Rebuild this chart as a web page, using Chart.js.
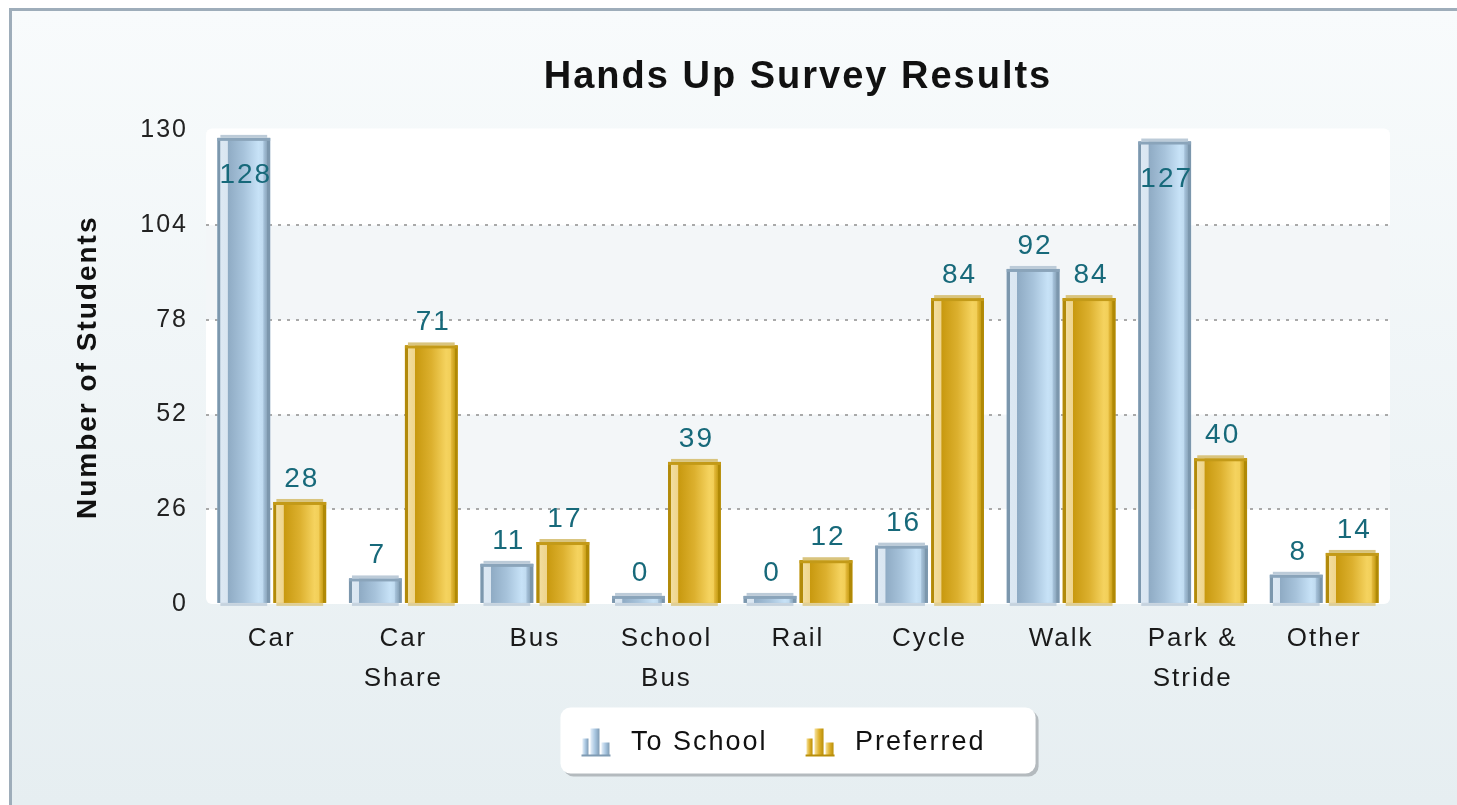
<!DOCTYPE html>
<html>
<head>
<meta charset="utf-8">
<title>Hands Up Survey Results</title>
<script src="https://cdn.jsdelivr.net/npm/chart.js@4"></script>
<style>
  html, body { margin: 0; padding: 0; background: #ffffff; overflow: hidden; }
  #wrap { width: 1457px; height: 805px; position: relative; }
</style>
</head>
<body>
<div id="wrap"><canvas id="surveyChart"></canvas></div>
<script>
// =========================
// chart data
// =========================
const categories = [
  ["Car"],
  ["Car", "Share"],
  ["Bus"],
  ["School", "Bus"],
  ["Rail"],
  ["Cycle"],
  ["Walk"],
  ["Park &", "Stride"],
  ["Other"],
];
const seriesNames = ["To School", "Preferred"];
const toSchool = [128, 7, 11, 0, 0, 16, 92, 127, 8];
const preferred = [28, 71, 17, 39, 12, 84, 84, 40, 14];
const yTicks = [0, 26, 52, 78, 104, 130];

const chartTitle = "Hands Up Survey Results";
const yTitle = "Number of Students";

// =========================
// bar looks (left -> right gradient)
// =========================
const blueStops = [
  [0, "#7c97ad"], [0.055, "#7c97ad"], [0.06, "#dce8f3"], [0.19, "#dae6f1"],
  [0.2, "#8fabc4"], [0.5, "#a7c3db"], [0.78, "#c7e2f7"], [0.86, "#c0dbf0"],
  [0.88, "#a5c1d9"], [0.94, "#8ca7bd"], [0.945, "#7c97ad"], [1, "#7c97ad"],
];
const goldStops = [
  [0, "#b28a0a"], [0.055, "#b28a0a"], [0.06, "#f2dd9e"], [0.19, "#efd58c"],
  [0.2, "#c8990f"], [0.5, "#dcb02e"], [0.78, "#f5d35f"], [0.86, "#f2cf58"],
  [0.88, "#e3b83a"], [0.94, "#c9a018"], [0.945, "#b08906"], [1, "#b08906"],
];
const barLooks = [
  { stops: blueStops, edge: "#8aa4ba", cap: "#bccbd8" },
  { stops: goldStops, edge: "#c39a18", cap: "#d9c47e" },
];

// =========================
// legend icons (small bar chart glyph)
// icon sits 22px into a 59px wide image so the
// legend gets the same gaps as the original
// =========================
const ICON_OFFSET = 22;

function makeLegendIcon(light, mid, dark) {
  const c = document.createElement("canvas");
  c.width = 59;
  c.height = 34;
  const g = c.getContext("2d");
  const bars = [
    [2, 13, 6],
    [10, 3, 9],
    [21, 17, 8],
  ];
  bars.forEach(([bx, by, bw]) => {
    const x0 = ICON_OFFSET + bx;
    const grad = g.createLinearGradient(x0, 0, x0 + bw, 0);
    grad.addColorStop(0, light);
    grad.addColorStop(0.5, mid);
    grad.addColorStop(1, dark);
    g.fillStyle = grad;
    g.fillRect(x0, by, bw, 30 - by);
  });
  g.fillStyle = dark;
  g.fillRect(ICON_OFFSET + 1, 29, 29, 2);
  return c;
}
const legendIcons = [
  makeLegendIcon("#e3eef8", "#a9c7e2", "#7f9bb3"),
  makeLegendIcon("#f6e3a0", "#e0b22c", "#b88e0a"),
];

// =========================
// plugins
// =========================
const spacingPlugin = {
  id: "spacing",
  beforeLayout(chart) {
    chart.ctx.letterSpacing = "2px";
  },
  afterLayout(chart) {
    // keep the visible legend centred like the original
    if (chart.legend) {
      chart.legend.left -= ICON_OFFSET + 4;
      chart.legend.right -= ICON_OFFSET + 4;
    }
  },
  beforeDraw(chart) {
    chart.ctx.letterSpacing = "2px";
  },
};

const backdropPlugin = {
  id: "backdrop",
  beforeDraw(chart) {
    const { ctx, width, height, chartArea, scales } = chart;
    ctx.save();

    // page background + frame
    const bg = ctx.createLinearGradient(0, 11, 0, height);
    bg.addColorStop(0, "#f8fbfc");
    bg.addColorStop(1, "#e6eef1");
    ctx.fillStyle = bg;
    ctx.fillRect(12, 11, width - 12, height - 11);
    ctx.fillStyle = "#9eadba";
    ctx.fillRect(9, 8, width - 9, 3);
    ctx.fillRect(9, 8, 3, height - 8);

    // plot area with alternating bands
    const { left, right, top, bottom } = chartArea;
    ctx.beginPath();
    ctx.roundRect(left, top - 2, right - left, bottom - top + 2, 6);
    ctx.fillStyle = "#ffffff";
    ctx.fill();
    const y = scales.y;
    for (let i = 0; i < yTicks.length - 1; i++) {
      if (i % 2 === 1) {
        const y1 = y.getPixelForValue(yTicks[i]);
        const y2 = y.getPixelForValue(yTicks[i + 1]);
        ctx.fillStyle = "#f3f6f8";
        ctx.fillRect(left, y2, right - left, y1 - y2);
      }
    }

    // legend box
    const boxes = chart.legend && chart.legend.legendHitBoxes;
    if (boxes && boxes.length) {
      const first = boxes[0];
      const last = boxes[boxes.length - 1];
      const cy = first.top + first.height / 2;
      const bx = first.left + ICON_OFFSET - 20;
      const bw = last.left + last.width + 50 - bx;
      const by = cy - 35;
      const bh = 66;
      ctx.beginPath();
      ctx.roundRect(bx + 3, by + 3, bw, bh, 10);
      ctx.fillStyle = "#b4babe";
      ctx.fill();
      ctx.beginPath();
      ctx.roundRect(bx, by, bw, bh, 10);
      ctx.fillStyle = "#ffffff";
      ctx.fill();
    }
    ctx.restore();
  },
};

const barPaintPlugin = {
  id: "barPaint",
  afterDatasetsDraw(chart) {
    const { ctx, chartArea } = chart;
    ctx.save();
    ctx.letterSpacing = "2px";

    chart.data.datasets.forEach((ds, di) => {
      const look = barLooks[di];
      chart.getDatasetMeta(di).data.forEach((el) => {
        const { x, y, base, width } = el.getProps(["x", "y", "base", "width"], true);
        const left = x - width / 2;
        const top = Math.min(y, base);
        const bottom = Math.max(y, base);

        const grad = ctx.createLinearGradient(left, 0, left + width, 0);
        look.stops.forEach(([p, c]) => grad.addColorStop(p, c));
        ctx.fillStyle = grad;
        ctx.fillRect(left, top, width, bottom - top);

        ctx.fillStyle = look.edge;
        ctx.fillRect(left, top, width, 3);
        ctx.fillStyle = look.cap;
        ctx.fillRect(left + 3, top - 3, width - 6, 3);
        ctx.globalAlpha = 0.8;
        ctx.fillRect(left + 3, bottom, width - 6, 3);
        ctx.globalAlpha = 1;
      });
    });

    // value labels
    ctx.font = "28px 'Liberation Sans', Arial, sans-serif";
    ctx.fillStyle = "#17697a";
    ctx.textAlign = "center";
    ctx.textBaseline = "alphabetic";
    chart.data.datasets.forEach((ds, di) => {
      chart.getDatasetMeta(di).data.forEach((el, i) => {
        const { x, y, base } = el.getProps(["x", "y", "base"], true);
        const top = Math.min(y, base);
        let ty = top - 15;
        if (ty - 21 < chartArea.top) {
          ty = top + 45;
        }
        ctx.fillText(String(ds.data[i]), x + 2, ty);
      });
    });
    ctx.restore();
  },
};

// =========================
// chart
// =========================
Chart.defaults.font.family = "'Liberation Sans', Arial, sans-serif";

const canvas = document.querySelector("#surveyChart");

new Chart(canvas.getContext("2d"), {
  type: "bar",
  data: {
    labels: categories,
    datasets: [
      {
        label: seriesNames[0],
        data: toSchool,
        backgroundColor: "#a7c3db",
        pointStyle: legendIcons[0],
        borderWidth: 0,
        minBarLength: 8,
        clip: false,
      },
      {
        label: seriesNames[1],
        data: preferred,
        backgroundColor: "#dcb02e",
        pointStyle: legendIcons[1],
        borderWidth: 0,
        minBarLength: 8,
        clip: false,
      },
    ],
  },
  options: {
    responsive: true,
    maintainAspectRatio: false,
    animation: false,
    categoryPercentage: 0.851,
    barPercentage: 0.943,
    layout: {
      padding: { top: 0, left: 12, right: 67, bottom: 39 },
    },
    plugins: {
      title: {
        display: true,
        text: chartTitle,
        fullSize: false,
        color: "#111111",
        font: { size: 38, weight: "bold" },
        padding: { top: 55, bottom: 30 },
      },
      legend: {
        display: true,
        position: "bottom",
        fullSize: false,
        labels: {
          usePointStyle: true,
          pointStyleWidth: 59,
          color: "#111111",
          font: { size: 27 },
          padding: 15,
        },
      },
      tooltip: { enabled: false },
    },
    scales: {
      x: {
        grid: { display: false, drawTicks: false },
        border: { display: false },
        ticks: {
          color: "#1a1a1a",
          font: { size: 26, lineHeight: 1.54 },
          padding: 15,
          maxRotation: 0,
          autoSkip: false,
        },
      },
      y: {
        min: yTicks[0],
        max: yTicks[yTicks.length - 1],
        afterBuildTicks: (scale) => {
          scale.ticks = yTicks.map((v) => ({ value: v }));
        },
        afterFit: (scale) => {
          scale.width = 194;
        },
        grid: {
          drawTicks: false,
          lineWidth: 2,
          color: (ctx) =>
            ctx.tick && (ctx.tick.value === yTicks[0] || ctx.tick.value === yTicks[yTicks.length - 1])
              ? "rgba(0,0,0,0)"
              : "#a9a9a9",
        },
        border: { display: false, dash: [3, 6] },
        ticks: {
          color: "#222222",
          font: { size: 25 },
          padding: 18,
        },
        title: {
          display: true,
          text: yTitle,
          color: "#111111",
          font: { size: 28, weight: "bold" },
          padding: { top: 59, bottom: 0 },
        },
      },
    },
  },
  plugins: [spacingPlugin, backdropPlugin, barPaintPlugin],
});
</script>
</body>
</html>
